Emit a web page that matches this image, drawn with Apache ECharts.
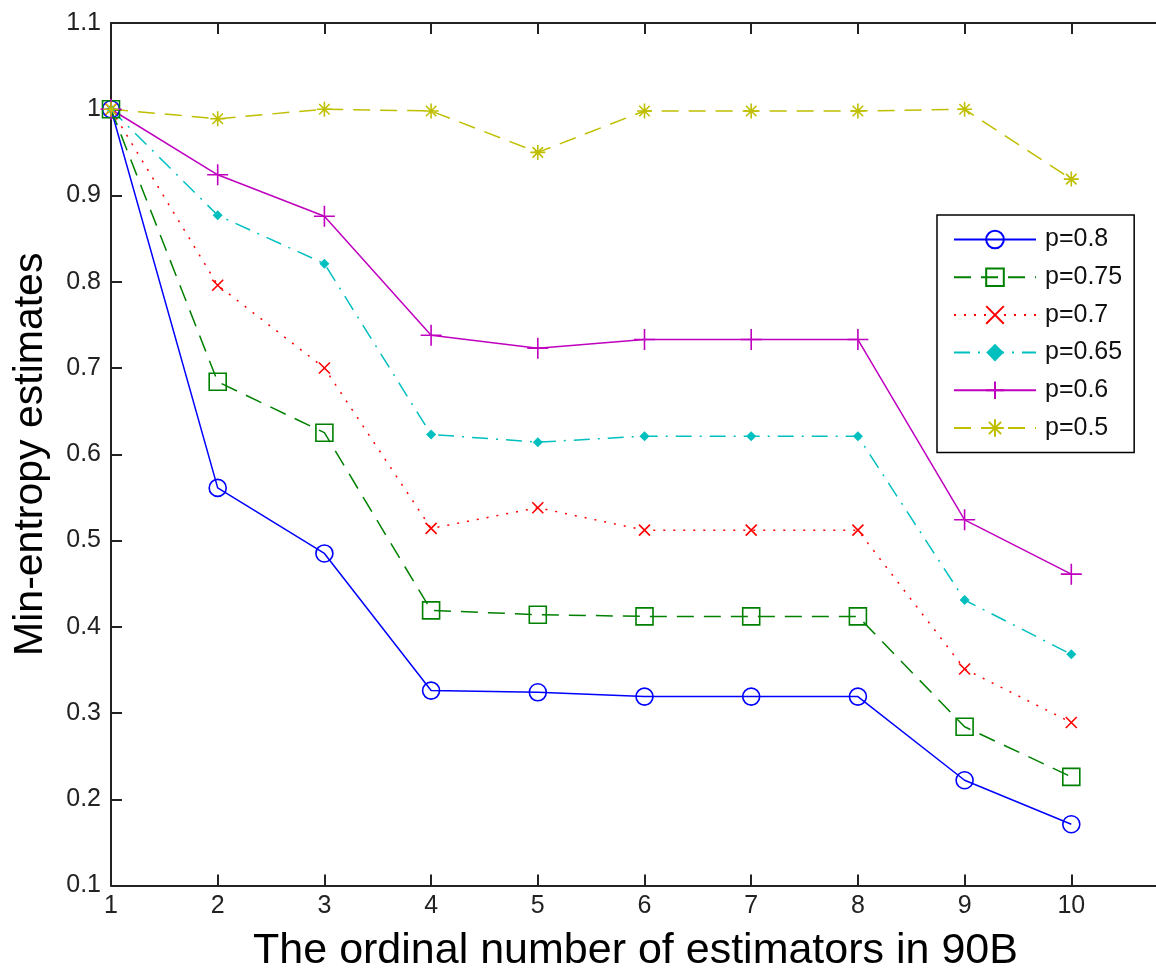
<!DOCTYPE html>
<html>
<head>
<meta charset="utf-8">
<title>Min-entropy estimates</title>
<script src="https://cdn.jsdelivr.net/npm/echarts@6/dist/echarts.min.js"></script>
<style>
  html, body { margin: 0; padding: 0; background: #fff; }
  #chart { width: 1156px; height: 968px; }
</style>
</head>
<body>
<div id="chart"></div>
<script>
// estimator index (x axis)
const estimators = [1, 2, 3, 4, 5, 6, 7, 8, 9, 10];

// min-entropy estimates per bias p
const p08  = [1.0, 0.561, 0.485, 0.326, 0.324, 0.319, 0.319, 0.319, 0.222, 0.171];
const p075 = [1.0, 0.684, 0.625, 0.419, 0.414, 0.412, 0.412, 0.412, 0.284, 0.226];
const p07  = [1.0, 0.796, 0.700, 0.514, 0.538, 0.512, 0.512, 0.512, 0.351, 0.289];
const p065 = [1.0, 0.877, 0.821, 0.623, 0.614, 0.621, 0.621, 0.621, 0.431, 0.368];
const p06  = [1.0, 0.924, 0.876, 0.738, 0.723, 0.733, 0.733, 0.733, 0.524, 0.461];
const p05  = [1.0, 0.989, 1.0, 0.998, 0.950, 0.998, 0.998, 0.998, 1.0, 0.919];

const seriesNames = ['p=0.8', 'p=0.75', 'p=0.7', 'p=0.65', 'p=0.6', 'p=0.5'];

const FONT = '"Liberation Sans", Arial, Helvetica, sans-serif';
const AXIS_COLOR = '#222';

// MATLAB-style marker shapes
const xMark = 'path://M0,0L10,10M0,10L10,0';
const plusMark = 'path://M5,0L5,10M0,5L10,5';
const starMark = 'path://M5,0L5,10M0,5L10,5M1.5,1.5L8.5,8.5M1.5,8.5L8.5,1.5';

const pairs = v => v.map((y, i) => [estimators[i], y]);

function makeSeries(name, data, color, dash, symbol, size, filled) {
  return {
    name: name,
    type: 'line',
    data: pairs(data),
    symbol: symbol,
    symbolSize: size,
    showAllSymbol: true,
    lineStyle: { color: color, width: 1.5, type: dash },
    itemStyle: {
      color: filled ? color : 'rgba(0,0,0,0)',
      borderColor: color,
      borderWidth: filled ? 0 : 1.6
    },
    emphasis: { disabled: true },
    z: 3
  };
}

const chart = echarts.init(document.getElementById('chart'), null, { renderer: 'canvas' });

const option = {
  animation: false,
  backgroundColor: '#fff',
  // the original figure is cropped on the right: the plot box runs past the canvas edge
  grid: { left: 111, top: 23, width: 1067, height: 862.5, outerBoundsMode: 'none' },
  legend: {
    orient: 'vertical',
    left: 937,
    top: 215,
    data: seriesNames,
    itemWidth: 82,
    itemHeight: 22,
    itemGap: 12.7,
    padding: [12, 12, 12, 16],
    borderColor: '#000',
    borderWidth: 1.5,
    backgroundColor: '#fff',
    textStyle: { fontFamily: FONT, fontSize: 25, color: '#111', padding: [0, 0, 0, 4] },
    selectedMode: false
  },
  xAxis: [
    {
      type: 'value',
      min: 1,
      max: 11,
      interval: 1,
      name: 'The ordinal number of estimators in 90B',
      nameLocation: 'middle',
      nameGap: 44,
      nameTextStyle: { fontFamily: FONT, fontSize: 43, color: '#000', padding: [0, 18, 0, 0] },
      axisLine: { lineStyle: { color: AXIS_COLOR, width: 2 } },
      axisTick: { inside: true, length: 11, lineStyle: { color: AXIS_COLOR, width: 2 } },
      axisLabel: { fontFamily: FONT, fontSize: 25, color: AXIS_COLOR, margin: 8, showMaxLabel: false },
      splitLine: { show: false }
    },
    {
      type: 'value',
      position: 'top',
      min: 1,
      max: 11,
      interval: 1,
      axisLine: { lineStyle: { color: AXIS_COLOR, width: 2 } },
      axisTick: { inside: true, length: 11, lineStyle: { color: AXIS_COLOR, width: 2 } },
      axisLabel: { show: false },
      splitLine: { show: false }
    }
  ],
  yAxis: [
    {
      type: 'value',
      min: 0.1,
      max: 1.1,
      interval: 0.1,
      name: 'Min-entropy estimates',
      nameLocation: 'middle',
      nameGap: 60,
      nameTextStyle: { fontFamily: FONT, fontSize: 41, color: '#000' },
      axisLine: { show: true, lineStyle: { color: AXIS_COLOR, width: 2 } },
      axisTick: { show: true, inside: true, length: 11, lineStyle: { color: AXIS_COLOR, width: 2 } },
      axisLabel: {
        fontFamily: FONT, fontSize: 25, color: AXIS_COLOR, margin: 10,
        formatter: v => String(+v.toFixed(1))
      },
      splitLine: { show: false }
    },
    {
      type: 'value',
      position: 'right',
      min: 0.1,
      max: 1.1,
      interval: 0.1,
      axisLine: { show: true, lineStyle: { color: AXIS_COLOR, width: 2 } },
      axisTick: { show: true, inside: true, length: 11, lineStyle: { color: AXIS_COLOR, width: 2 } },
      axisLabel: { show: false },
      splitLine: { show: false }
    }
  ],
  series: [
    makeSeries(seriesNames[0], p08,  '#0000FF', 'solid',        'circle',  17, false),
    makeSeries(seriesNames[1], p075, '#008000', [17, 10],       'rect',    17, false),
    makeSeries(seriesNames[2], p07,  '#FF0000', [2, 8],         xMark,     11, false),
    makeSeries(seriesNames[3], p065, '#00BFBF', [16, 8, 2, 8],  'diamond', 10, true),
    makeSeries(seriesNames[4], p06,  '#BF00BF', 'solid',        plusMark,  21, false),
    makeSeries(seriesNames[5], p05,  '#BFBF00', [17, 10],       starMark,  15, false)
  ]
};

chart.setOption(option);
</script>
</body>
</html>
